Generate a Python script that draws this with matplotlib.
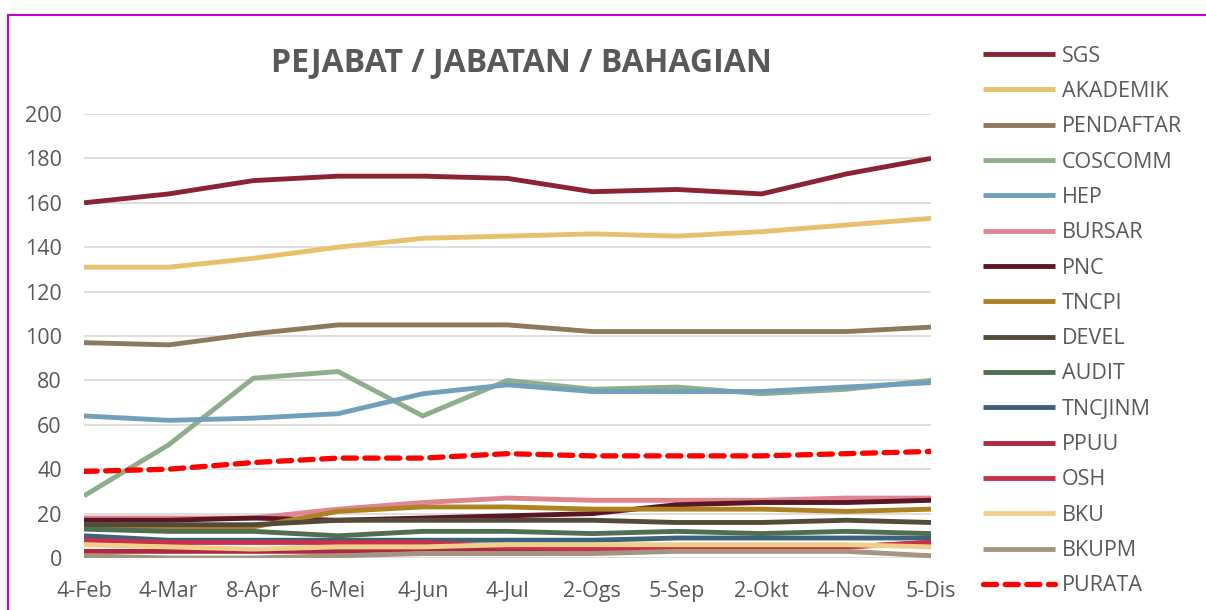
import matplotlib.pyplot as plt
from matplotlib.lines import Line2D

# data
tarikh = ['4-Feb', '4-Mar', '8-Apr', '6-Mei', '4-Jun', '4-Jul',
          '2-Ogs', '5-Sep', '2-Okt', '4-Nov', '5-Dis']

sgs = [160, 164, 170, 172, 172, 171, 165, 166, 164, 173, 180]
akademik = [131, 131, 135, 140, 144, 145, 146, 145, 147, 150, 153]
pendaftar = [97, 96, 101, 105, 105, 105, 102, 102, 102, 102, 104]
coscomm = [28, 51, 81, 84, 64, 80, 76, 77, 74, 76, 80]
hep = [64, 62, 63, 65, 74, 78, 75, 75, 75, 77, 79]
bursar = [18, 18, 18, 22, 25, 27, 26, 26, 26, 27, 27]
pnc = [17, 17, 18, 17, 18, 19, 20, 24, 25, 25, 26]
tncpi = [14, 13, 14, 21, 23, 23, 22, 22, 22, 21, 22]
devel = [15, 15, 15, 17, 17, 17, 17, 16, 16, 17, 16]
audit = [13, 12, 12, 10, 12, 12, 11, 12, 11, 12, 11]
tncjinm = [10, 8, 8, 8, 8, 8, 8, 9, 9, 9, 9]
ppuu = [3, 3, 3, 3, 4, 4, 4, 4, 4, 5, 7]
osh = [8, 7, 7, 7, 7, 5, 4, 4, 4, 5, 7]
bku = [6, 5, 4, 5, 5, 6, 6, 6, 6, 6, 5]
bkupm = [1, 0, 0, 1, 2, 2, 2, 3, 3, 3, 1]
purata = [39, 40, 43, 45, 45, 47, 46, 46, 46, 47, 48]

siri = [
    ('SGS', sgs, '#8C2334'),
    ('AKADEMIK', akademik, '#E9C16C'),
    ('PENDAFTAR', pendaftar, '#8B7A5E'),
    ('COSCOMM', coscomm, '#8FAE8B'),
    ('HEP', hep, '#72A0BC'),
    ('BURSAR', bursar, '#E08594'),
    ('PNC', pnc, '#5A1623'),
    ('TNCPI', tncpi, '#AE8222'),
    ('DEVEL', devel, '#534A3A'),
    ('AUDIT', audit, '#4F6F50'),
    ('TNCJINM', tncjinm, '#3E627A'),
    ('PPUU', ppuu, '#AD2940'),
    ('OSH', osh, '#C9304A'),
    ('BKU', bku, '#EFD08A'),
    ('BKUPM', bkupm, '#A39580'),
]

plt.rcParams['font.family'] = ['Open Sans', 'DejaVu Sans']
kelabu = '#595959'
saiz = 15.5

fig = plt.figure(figsize=(12.06, 6.10), dpi=100)
ax = fig.add_axes([84 / 1206, 52 / 610, (931 - 84) / 1206, (558 - 114) / 610])

x = list(range(len(tarikh)))
for nama, nilai, warna in siri:
    ax.plot(x, nilai, color=warna, lw=3.5, label=nama, solid_capstyle='butt')
ax.plot(x, purata, color='#FF0000', lw=3.8, ls=(0, (2.5, 1.6)),
        dash_capstyle='round', label='PURATA')

ax.set_xlim(0, 10)
ax.set_ylim(0, 200)
ax.set_yticks(range(0, 201, 20))
ax.set_xticks(x)
ax.set_xticklabels(tarikh)
ax.tick_params(length=0, labelsize=saiz, colors=kelabu, pad=16.5)
ax.tick_params(axis='y', pad=16)
ax.grid(axis='y', color='#D9D9D9', lw=1.2)
ax.set_axisbelow(True)
for s in ax.spines.values():
    s.set_visible(False)

fig.text(521 / 1206, 1 - 63 / 610, 'PEJABAT / JABATAN / BAHAGIAN',
         ha='center', va='center', fontsize=23, fontweight='bold', color=kelabu)

leg = ax.legend(loc='upper left', bbox_to_anchor=(974 / 1206, 1 - 37 / 610),
                bbox_transform=fig.transFigure, frameon=False, fontsize=saiz,
                handlelength=3.35, labelspacing=0.665, handletextpad=0.33,
                borderaxespad=0)
for t in leg.get_texts():
    t.set_color(kelabu)

# sempadan carta
fig.add_artist(Line2D([8 / 1206, 8 / 1206], [0, 1 - 15 / 610],
                      transform=fig.transFigure, color='#CC00CC', lw=1.5))
fig.add_artist(Line2D([8 / 1206, 1], [1 - 15 / 610, 1 - 15 / 610],
                      transform=fig.transFigure, color='#CC00CC', lw=1.5))

fig.savefig('out.png', dpi=100)
